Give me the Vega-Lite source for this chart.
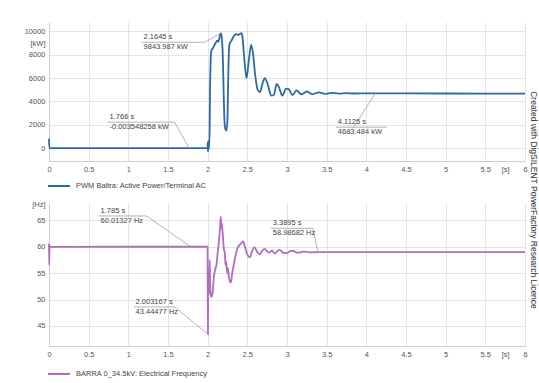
{
  "$schema": "https://vega.github.io/schema/vega-lite/v6.json",
  "background": "white",
  "padding": {"top": 22, "left": 24, "right": 0, "bottom": 0},
  "spacing": 10,
  "title": {"text": "Created with DigSILENT PowerFactory Research Licence", "orient": "right", "anchor": "middle", "fontSize": 8.5, "fontWeight": "normal", "color": "#333", "offset": 1},
  "config": {
    "font": "Liberation Sans",
    "view": {"stroke": null},
    "axis": {"labelFontSize": 7.5, "labelColor": "#555", "domainColor": "#cfcfcf", "gridColor": "#e4e4e4", "ticks": false, "labelPadding": 4, "labelOverlap": false, "labelFlush": false, "title": null, "tickCount": 100},
    "legend": {"labelFontSize": 7.5, "labelColor": "#444", "symbolType": "stroke", "symbolSize": 480, "symbolStrokeWidth": 2, "labelOffset": 5, "padding": 0}
  },
  "datasets": {
    "power": [
      {"t": 0, "v": 800}, {"t": 0.004, "v": 0}, {"t": 1.999, "v": 0}, {"t": 2.0, "v": 500}, {"t": 2.004, "v": -300}, {"t": 2.008, "v": 600}, {"t": 2.012, "v": -100}, {"t": 2.018, "v": 300}, {"t": 2.022, "v": 200},
      {"t": 2.03, "v": 5000}, {"t": 2.045, "v": 8300}, {"t": 2.07, "v": 8600}, {"t": 2.1, "v": 9000}, {"t": 2.12, "v": 9200}, {"t": 2.135, "v": 9100}, {"t": 2.15, "v": 9500}, {"t": 2.1645, "v": 9843.987},
      {"t": 2.175, "v": 9600}, {"t": 2.19, "v": 8000}, {"t": 2.2, "v": 5200}, {"t": 2.212, "v": 2300}, {"t": 2.225, "v": 1600}, {"t": 2.238, "v": 1500}, {"t": 2.25, "v": 2600}, {"t": 2.262, "v": 7000},
      {"t": 2.275, "v": 8900}, {"t": 2.3, "v": 9200}, {"t": 2.33, "v": 9600}, {"t": 2.36, "v": 9750}, {"t": 2.39, "v": 9700}, {"t": 2.41, "v": 9800}, {"t": 2.428, "v": 9850}, {"t": 2.44, "v": 9400},
      {"t": 2.46, "v": 7800}, {"t": 2.49, "v": 6000}, {"t": 2.52, "v": 7600}, {"t": 2.548, "v": 8850}, {"t": 2.57, "v": 8200}, {"t": 2.6, "v": 6200}, {"t": 2.63, "v": 5000}, {"t": 2.66, "v": 4800},
      {"t": 2.69, "v": 5500}, {"t": 2.72, "v": 6000}, {"t": 2.76, "v": 5400}, {"t": 2.8, "v": 4500}, {"t": 2.835, "v": 4550}, {"t": 2.87, "v": 5500}, {"t": 2.9, "v": 5200}, {"t": 2.94, "v": 4500},
      {"t": 2.99, "v": 5100}, {"t": 3.02, "v": 5050}, {"t": 3.07, "v": 4550}, {"t": 3.12, "v": 4950}, {"t": 3.18, "v": 4600}, {"t": 3.25, "v": 4850}, {"t": 3.32, "v": 4620}, {"t": 3.4, "v": 4780},
      {"t": 3.48, "v": 4650}, {"t": 3.56, "v": 4740}, {"t": 3.65, "v": 4670}, {"t": 3.75, "v": 4710}, {"t": 3.85, "v": 4680}, {"t": 4.0, "v": 4690}, {"t": 4.1125, "v": 4683.484}, {"t": 5.0, "v": 4680}, {"t": 6.0, "v": 4670}
    ],
    "freq": [
      {"t": 0, "v": 60.6}, {"t": 0.003, "v": 56.5}, {"t": 0.006, "v": 60.2}, {"t": 0.01, "v": 60}, {"t": 1.999, "v": 60.01}, {"t": 2.0, "v": 55}, {"t": 2.003167, "v": 43.44477},
      {"t": 2.006, "v": 50}, {"t": 2.01, "v": 55}, {"t": 2.014, "v": 51}, {"t": 2.018, "v": 56}, {"t": 2.022, "v": 52}, {"t": 2.026, "v": 57.5}, {"t": 2.03, "v": 54}, {"t": 2.035, "v": 51.5},
      {"t": 2.045, "v": 50.5}, {"t": 2.06, "v": 51}, {"t": 2.08, "v": 54.5}, {"t": 2.1, "v": 56}, {"t": 2.11, "v": 56.5}, {"t": 2.13, "v": 59.5}, {"t": 2.145, "v": 61.5}, {"t": 2.158, "v": 64},
      {"t": 2.166, "v": 65.7}, {"t": 2.172, "v": 63.5}, {"t": 2.178, "v": 64.5}, {"t": 2.19, "v": 62.5}, {"t": 2.205, "v": 59.5}, {"t": 2.215, "v": 59}, {"t": 2.225, "v": 56.5}, {"t": 2.235, "v": 57.2},
      {"t": 2.245, "v": 55}, {"t": 2.255, "v": 56}, {"t": 2.27, "v": 54}, {"t": 2.29, "v": 53.2}, {"t": 2.31, "v": 55}, {"t": 2.34, "v": 57.5}, {"t": 2.37, "v": 59.5}, {"t": 2.4, "v": 60.3},
      {"t": 2.43, "v": 60.8}, {"t": 2.45, "v": 61}, {"t": 2.47, "v": 60}, {"t": 2.5, "v": 58.5}, {"t": 2.53, "v": 58}, {"t": 2.56, "v": 59.2}, {"t": 2.59, "v": 59.9}, {"t": 2.625, "v": 59},
      {"t": 2.656, "v": 58.6}, {"t": 2.69, "v": 59.3}, {"t": 2.72, "v": 59.6}, {"t": 2.75, "v": 59.1}, {"t": 2.78, "v": 58.9}, {"t": 2.81, "v": 59.3}, {"t": 2.845, "v": 58.7}, {"t": 2.88, "v": 59.2},
      {"t": 2.91, "v": 59.4}, {"t": 2.95, "v": 58.9}, {"t": 3.0, "v": 58.8}, {"t": 3.04, "v": 59.2}, {"t": 3.08, "v": 59.25}, {"t": 3.12, "v": 58.9}, {"t": 3.16, "v": 58.9}, {"t": 3.2, "v": 59.1},
      {"t": 3.25, "v": 59.05}, {"t": 3.3, "v": 58.95}, {"t": 3.3895, "v": 58.98682}, {"t": 4.0, "v": 58.99}, {"t": 5.0, "v": 58.99}, {"t": 6.0, "v": 58.99}
    ],
    "annPower": [
      {"t1": 1.167, "t2": 1.962, "ys": 9063, "lx": 1.962, "tp": 2.1645, "vp": 9843.987, "l1": "2.1645 s", "l2": "9843.987 kW"},
      {"t1": 0.738, "t2": 1.584, "ys": 2223, "lx": 1.584, "tp": 1.766, "vp": -0.003548258, "l1": "1.766 s", "l2": "-0.003548258 kW"},
      {"t1": 3.615, "t2": 4.258, "ys": 1796, "lx": 3.84, "tp": 4.1125, "vp": 4683.484, "l1": "4.1125 s", "l2": "4683.484 kW"}
    ],
    "annFreq": [
      {"t1": 0.625, "t2": 1.23, "ys": 65.84, "lx": 1.23, "tp": 1.785, "vp": 60.01327, "l1": "1.785 s", "l2": "60.01327 Hz"},
      {"t1": 1.066, "t2": 1.584, "ys": 48.6, "lx": 1.584, "tp": 2.003167, "vp": 43.44477, "l1": "2.003167 s", "l2": "43.44477 Hz"},
      {"t1": 2.795, "t2": 3.325, "ys": 63.5, "lx": 3.325, "tp": 3.3895, "vp": 58.98682, "l1": "3.3895 s", "l2": "58.98682 Hz"}
    ]
  },
  "resolve": {"scale": {"color": "independent"}, "legend": {"color": "independent"}},
  "vconcat": [
    {
      "width": 476,
      "height": 139,
      "layer": [
        {
          "data": {"name": "power"},
          "mark": {"type": "line", "strokeWidth": 1.8, "interpolate": "monotone"},
          "encoding": {
            "x": {"field": "t", "type": "quantitative", "scale": {"domain": [0, 6], "nice": false},
              "axis": {"tickCount": 100, "labelOverlap": false, "labelFlush": false, "values": [0, 0.5, 1, 1.5, 2, 2.5, 3, 3.5, 4, 4.5, 5, 5.5, 5.75, 6], "labelExpr": "datum.value == 5.75 ? '[s]' : format(datum.value, '~g')", "gridOpacity": {"condition": {"test": "datum.value == 5.75", "value": 0}, "value": 1}}},
            "y": {"field": "v", "type": "quantitative", "scale": {"domain": [-1100, 10800], "nice": false, "zero": false},
              "axis": {"tickCount": 100, "labelOverlap": false, "values": [0, 2000, 4000, 6000, 8000, 9000, 10000], "labelExpr": "datum.value == 9000 ? '[kW]' : format(datum.value, 'd')", "gridOpacity": {"condition": {"test": "datum.value == 9000", "value": 0}, "value": 1}}},
            "color": {"datum": "PWM Baltra: Active Power/Terminal AC", "type": "nominal", "scale": {"range": ["#2c69a6"]},
              "legend": {"title": null, "orient": "none", "legendX": -2, "legendY": 152}}
          }
        },
        {
          "data": {"name": "annPower"},
          "mark": {"type": "rule", "color": "#a0a0a0", "strokeWidth": 0.8},
          "encoding": {"x": {"field": "t1", "type": "quantitative"}, "x2": {"field": "t2"}, "y": {"field": "ys", "type": "quantitative"}}
        },
        {
          "data": {"name": "annPower"},
          "mark": {"type": "rule", "color": "#a0a0a0", "strokeWidth": 0.8},
          "encoding": {"x": {"field": "lx", "type": "quantitative"}, "y": {"field": "ys", "type": "quantitative"}, "x2": {"field": "tp"}, "y2": {"field": "vp"}}
        },
        {
          "data": {"name": "annPower"},
          "mark": {"type": "text", "align": "left", "baseline": "bottom", "dx": 2, "dy": -1, "fontSize": 7.5, "color": "#444"},
          "encoding": {"x": {"field": "t1", "type": "quantitative"}, "y": {"field": "ys", "type": "quantitative"}, "text": {"field": "l1"}}
        },
        {
          "data": {"name": "annPower"},
          "mark": {"type": "text", "align": "left", "baseline": "top", "dx": 2, "dy": 1, "fontSize": 7.5, "color": "#444"},
          "encoding": {"x": {"field": "t1", "type": "quantitative"}, "y": {"field": "ys", "type": "quantitative"}, "text": {"field": "l2"}}
        }
      ]
    },
    {
      "width": 476,
      "height": 143,
      "layer": [
        {
          "data": {"name": "freq"},
          "mark": {"type": "line", "strokeWidth": 1.8, "interpolate": "monotone"},
          "encoding": {
            "x": {"field": "t", "type": "quantitative", "scale": {"domain": [0, 6], "nice": false},
              "axis": {"tickCount": 100, "labelOverlap": false, "labelFlush": false, "values": [0, 0.5, 1, 1.5, 2, 2.5, 3, 3.5, 4, 4.5, 5, 5.5, 5.75, 6], "labelExpr": "datum.value == 5.75 ? '[s]' : format(datum.value, '~g')", "gridOpacity": {"condition": {"test": "datum.value == 5.75", "value": 0}, "value": 1}}},
            "y": {"field": "v", "type": "quantitative", "scale": {"domain": [41.2, 68.3], "nice": false, "zero": false},
              "axis": {"tickCount": 100, "labelOverlap": false, "values": [45, 50, 55, 60, 65, 68.1], "labelExpr": "datum.value == 68.1 ? '[Hz]' : format(datum.value, 'd')", "gridOpacity": {"condition": {"test": "datum.value == 68.1", "value": 0}, "value": 1}}},
            "color": {"datum": "BARRA 0_34.5kV: Electrical Frequency", "type": "nominal", "scale": {"range": ["#b06cbf"]},
              "legend": {"title": null, "orient": "none", "legendX": -2, "legendY": 159}}
          }
        },
        {
          "data": {"name": "annFreq"},
          "mark": {"type": "rule", "color": "#a0a0a0", "strokeWidth": 0.8},
          "encoding": {"x": {"field": "t1", "type": "quantitative"}, "x2": {"field": "t2"}, "y": {"field": "ys", "type": "quantitative"}}
        },
        {
          "data": {"name": "annFreq"},
          "mark": {"type": "rule", "color": "#a0a0a0", "strokeWidth": 0.8},
          "encoding": {"x": {"field": "lx", "type": "quantitative"}, "y": {"field": "ys", "type": "quantitative"}, "x2": {"field": "tp"}, "y2": {"field": "vp"}}
        },
        {
          "data": {"name": "annFreq"},
          "mark": {"type": "text", "align": "left", "baseline": "bottom", "dx": 2, "dy": -1, "fontSize": 7.5, "color": "#444"},
          "encoding": {"x": {"field": "t1", "type": "quantitative"}, "y": {"field": "ys", "type": "quantitative"}, "text": {"field": "l1"}}
        },
        {
          "data": {"name": "annFreq"},
          "mark": {"type": "text", "align": "left", "baseline": "top", "dx": 2, "dy": 1, "fontSize": 7.5, "color": "#444"},
          "encoding": {"x": {"field": "t1", "type": "quantitative"}, "y": {"field": "ys", "type": "quantitative"}, "text": {"field": "l2"}}
        }
      ]
    }
  ]
}
